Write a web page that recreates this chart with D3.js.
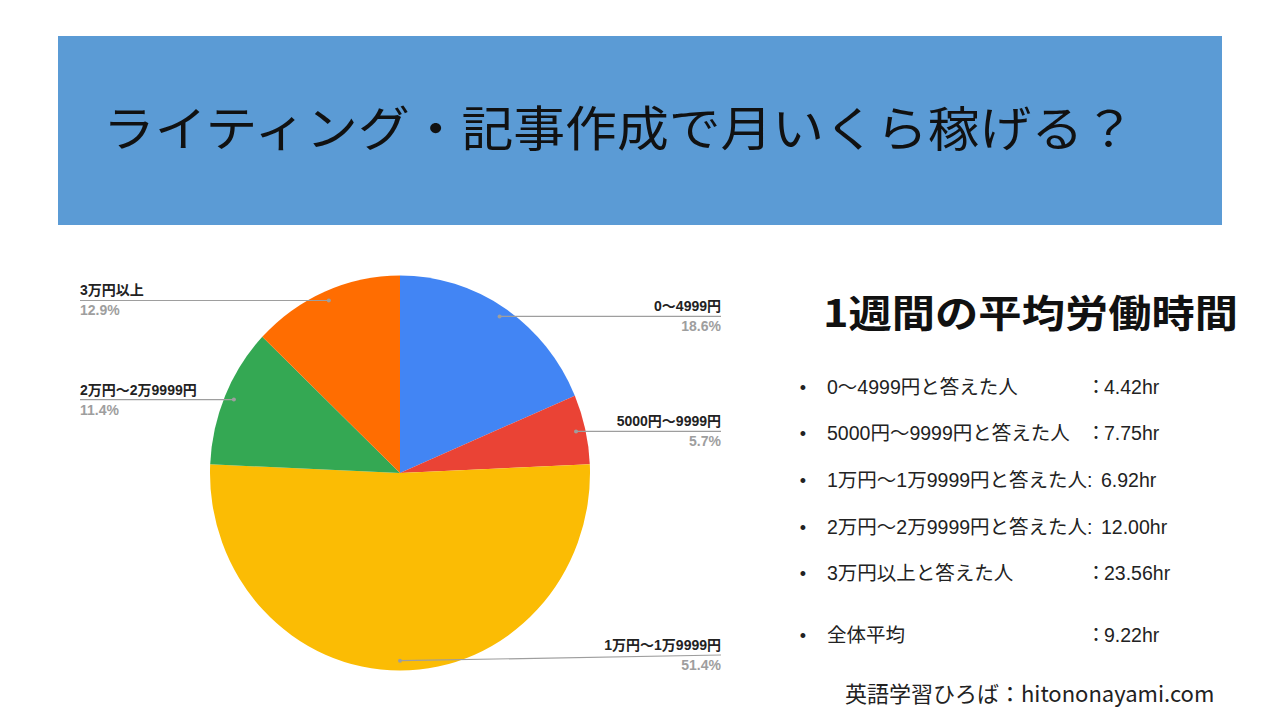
<!DOCTYPE html>
<html>
<head>
<meta charset="utf-8">
<script src="https://cdn.jsdelivr.net/npm/d3@7"></script>
<style>
  body { margin: 0; background: #fff; }
  text { font-family: "Liberation Sans", "Noto Sans CJK JP", sans-serif; }
</style>
</head>
<body>
<div id="chart"></div>
<script>
(function () {

  // pie slices, clockwise from 12 o'clock
  const categories = ['0～4999円', '5000円～9999円', '1万円～1万9999円', '2万円～2万9999円', '3万円以上']
  const shares = [18.6, 5.7, 51.4, 11.4, 12.9]
  const colors = ['#4285f4', '#ea4335', '#fbbc04', '#34a853', '#ff6d01']

  // the list on the right
  const hourLabels = ['0～4999円と答えた人', '5000円～9999円と答えた人', '1万円～1万9999円と答えた人:', '2万円～2万9999円と答えた人:', '3万円以上と答えた人', '全体平均']
  const hourColons = ['：', '：', '', '', '：', '：']
  const hourValues = ['4.42hr', '7.75hr', '6.92hr', '12.00hr', '23.56hr', '9.22hr']

  const title = 'ライティング・記事作成で月いくら稼げる？'
  const subtitle = '1週間の平均労働時間'
  const credit = '英語学習ひろば：hitononayami.com'

  const width = 1280
  const height = 720

  const svg = d3.select("#chart").append("svg")
      .attr("width", width)
      .attr("height", height)

  // title banner
  svg.append("rect")
    .attr("x", 58).attr("y", 36)
    .attr("width", 1164).attr("height", 189)
    .attr("fill", "#5b9bd5")

  svg.append("text")
    .attr("x", 103).attr("y", 146)
    .attr("font-size", 48)
    .attr("textLength", 1032)
    .attr("lengthAdjust", "spacingAndGlyphs")
    .style("font-family", '"Noto Sans CJK JP", sans-serif')
    .attr("fill", "#111")
    .text(title)

  // pie
  const cx = 400, cy = 473
  const r = 190
  const ky = 1.04   // the slide is stretched a little vertically

  const pie = d3.pie().sort(null).value(d => d)
  const arcs = pie(shares)

  const arc = d3.arc().innerRadius(0).outerRadius(r)
  const anchorArc = d3.arc().innerRadius(r * 0.95).outerRadius(r * 0.95)

  const pieG = svg.append("g")
    .attr("transform", "translate(" + cx + "," + cy + ") scale(1," + ky + ")")

  pieG.selectAll("path")
    .data(arcs)
    .join("path")
    .attr("d", arc)
    .attr("fill", (d, i) => colors[i])

  // label leaders
  const labelRight = 721, labelLeft = 80
  const labelBottom = 655

  const labels = arcs.map((d, i) => {
    const c = anchorArc.centroid(d)
    const x = cx + c[0]
    const y = cy + c[1] * ky
    const right = c[0] >= 0
    return { i, x, y, right, ly: Math.min(y, labelBottom) }
  })

  const lg = svg.append("g")

  lg.selectAll("line")
    .data(labels)
    .join("line")
    .attr("x1", d => d.x)
    .attr("y1", d => d.y)
    .attr("x2", d => d.right ? labelRight : labelLeft)
    .attr("y2", d => d.ly)
    .attr("stroke", "#9e9e9e")
    .attr("stroke-width", 1.2)

  lg.selectAll("circle")
    .data(labels)
    .join("circle")
    .attr("cx", d => d.x)
    .attr("cy", d => d.y)
    .attr("r", 2)
    .attr("fill", "#9e9e9e")

  lg.selectAll("text.cat")
    .data(labels)
    .join("text")
    .attr("class", "cat")
    .attr("x", d => d.right ? labelRight : labelLeft)
    .attr("y", d => d.ly - 5)
    .attr("text-anchor", d => d.right ? "end" : "start")
    .attr("font-size", 14)
    .attr("font-weight", "bold")
    .attr("fill", "#222")
    .text(d => categories[d.i])

  lg.selectAll("text.pct")
    .data(labels)
    .join("text")
    .attr("class", "pct")
    .attr("x", d => d.right ? labelRight : labelLeft)
    .attr("y", d => d.ly + 15)
    .attr("text-anchor", d => d.right ? "end" : "start")
    .attr("font-size", 14)
    .attr("font-weight", "bold")
    .attr("fill", "#9e9e9e")
    .text(d => d3.format(".1f")(shares[d.i]) + "%")

  // right side text block
  svg.append("text")
    .attr("x", 823).attr("y", 327)
    .attr("font-size", 38)
    .attr("font-weight", "bold")
    .attr("textLength", 415)
    .attr("lengthAdjust", "spacingAndGlyphs")
    .attr("fill", "#111")
    .style("font-family", '"Noto Sans CJK JP", sans-serif')
    .text(subtitle)

  const rowY = [387, 433, 480, 527, 573, 635]

  const rows = svg.append("g")
    .selectAll("g")
    .data(hourLabels)
    .join("g")
    .attr("transform", (d, i) => "translate(0," + (rowY[i] + 7) + ")")

  rows.append("text")
    .attr("x", 803)
    .attr("text-anchor", "middle")
    .attr("font-size", 18)
    .attr("fill", "#222")
    .text("•")

  rows.append("text")
    .attr("x", 827)
    .attr("font-size", 19.5)
    .attr("fill", "#222")
    .text(d => d)

  rows.append("text")
    .attr("x", 1096)
    .attr("text-anchor", "middle")
    .attr("font-size", 19.5)
    .attr("fill", "#222")
    .text((d, i) => hourColons[i])

  rows.append("text")
    .attr("x", (d, i) => hourColons[i] ? 1104 : 1101)
    .attr("font-size", 19.5)
    .attr("fill", "#222")
    .text((d, i) => hourValues[i])

  svg.append("text")
    .attr("x", 845).attr("y", 702)
    .attr("font-size", 22)
    .attr("fill", "#222")
    .style("font-family", '"Noto Sans CJK JP", sans-serif')
    .text(credit)

})();
</script>
</body>
</html>
